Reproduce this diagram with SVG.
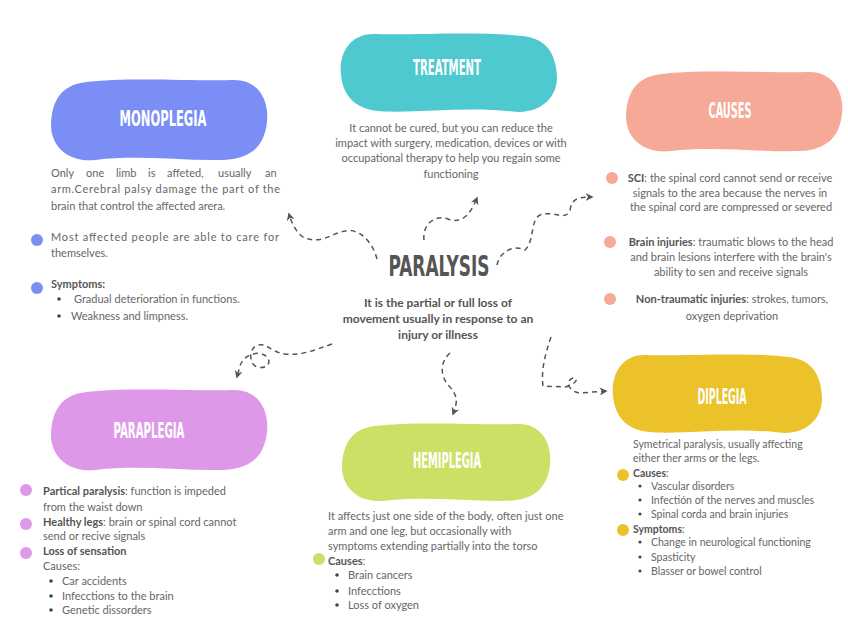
<svg xmlns="http://www.w3.org/2000/svg" width="848" height="636" viewBox="0 0 848 636">
<style>
.b{font-family:Lato,"Open Sans",sans-serif;font-size:11px;fill:#666}
.d{font-size:10.5px}
.s{font-weight:bold;fill:#555}
.m{text-anchor:middle}
.h{font-family:"Liberation Sans Narrow","DejaVu Sans Condensed",sans-serif;font-weight:bold;fill:#fff;font-size:21px;text-anchor:middle}
.c{fill:none;stroke:#555;stroke-width:1.5;stroke-dasharray:5 4;marker-end:url(#ar)}
.dot{fill:#444}
</style>
<defs>
<path id="blob" d="M32,4 C70,-1 130,3 168,2 C194,1 202,24 200,42 C198,62 188,77 160,78 C120,79 82,73 42,78 C14,81 0,62 1,43 C2,22 10,7 32,4 Z"/>
<marker id="ar" viewBox="0 0 10 10" refX="8" refY="5" markerWidth="8" markerHeight="8" markerUnits="userSpaceOnUse" orient="auto">
<path d="M0,0 L10,5 L0,10 L3,5 Z" fill="#555"/>
</marker>
</defs>
<rect width="848" height="636" fill="#fff"/>

<g id="connectors">
<path class="c" d="M377,259 C372,240 358,228 345,231 C330,234 322,244 305,238 C298,235 292,225 289,214"/>
<path class="c" d="M424,240 C422,225 435,214 448,219 C462,224 470,215 477,198"/>
<path class="c" d="M497,265 C500,250 515,245 525,250 C535,240 530,220 540,215 C555,210 565,222 570,210 C572,200 575,197 592,197"/>
<path class="c" d="M332,344 C315,350 300,356 285,354 C270,352 268,343 258,345 C250,347 248,360 255,366 C262,370 272,366 268,358 C262,350 245,352 240,366 L237,377"/>
<path class="c" d="M450,353 C440,362 440,375 448,385 C458,395 458,402 453,414"/>
<path class="c" d="M551,337 C545,355 541,370 543,386 L565,387 C575,385 580,378 573,378 C565,380 568,392 580,393 L606,391"/>
</g>

<g id="paralysis">
<text x="439" y="276" font-family="'Liberation Sans Narrow','DejaVu Sans Condensed',sans-serif" font-weight="bold" font-size="28" fill="#555" text-anchor="middle" textLength="101" lengthAdjust="spacingAndGlyphs">PARALYSIS</text>
<text class="b s m" x="438" y="307" style="font-size:12px">It is the partial or full loss of</text>
<text class="b s m" x="438" y="323" style="font-size:12px">movement usually in response to an</text>
<text class="b s m" x="438" y="339" style="font-size:12px">injury  or illness</text>
</g>

<g id="monoplegia">
<use href="#blob" fill="#7A8EF6" transform="translate(50,78) scale(1.085,1.05)"/>
<text class="h" x="163" y="126" textLength="87" lengthAdjust="spacingAndGlyphs">MONOPLEGIA</text>
<text class="b" y="177"><tspan x="51">Only</tspan><tspan x="86">one</tspan><tspan x="116">limb</tspan><tspan x="148">is</tspan><tspan x="167">affeted,</tspan><tspan x="218">usually</tspan><tspan x="265">an</tspan></text>
<text class="b" x="51" y="193" textLength="229" lengthAdjust="spacing">arm.Cerebral palsy damage the part of the</text>
<text class="b" x="51" y="210">brain that control the affected arera.</text>
<circle cx="37" cy="240" r="6" fill="#7A8EF6"/>
<text class="b" x="51" y="241" textLength="228" lengthAdjust="spacing">Most affected people are able to care for</text>
<text class="b" x="51" y="257">themselves.</text>
<circle cx="37" cy="288" r="6" fill="#7A8EF6"/>
<text class="b s" x="51" y="288">Symptoms:</text>
<circle class="dot" cx="59" cy="299" r="1.8"/>
<text class="b" x="74" y="303">Gradual deterioration in functions.</text>
<circle class="dot" cx="59" cy="316" r="1.8"/>
<text class="b" x="71" y="320">Weakness and limpness.</text>
</g>

<g id="treatment">
<use href="#blob" fill="#4DC9CF" transform="translate(558,32) scale(-1.085,1.02)"/>
<text class="h" x="447" y="75" textLength="68" lengthAdjust="spacingAndGlyphs">TREATMENT</text>
<text class="b m" x="451" y="132">It cannot be cured, but you can reduce the</text>
<text class="b m" x="451" y="147">impact with surgery, medication, devices or with</text>
<text class="b m" x="451" y="162">occupational therapy to help you regain some</text>
<text class="b m" x="451" y="178">functioning</text>
</g>

<g id="causes">
<use href="#blob" fill="#F5A996" transform="translate(625,70) scale(1.085,1.04)"/>
<text class="h" x="730" y="118" textLength="43" lengthAdjust="spacingAndGlyphs">CAUSES</text>
<circle cx="612" cy="178" r="6" fill="#F5A996"/>
<text class="b m" x="730" y="182"><tspan class="s">SCI</tspan>: the spinal cord cannot send or receive</text>
<text class="b m" x="730" y="197">signals to the area because  the nerves in</text>
<text class="b m" x="731" y="211">the spinal cord are compressed or severed</text>
<circle cx="610" cy="242" r="6" fill="#F5A996"/>
<text class="b m" x="731" y="246"><tspan class="s">Brain injuries</tspan>: traumatic blows to the head</text>
<text class="b m" x="731" y="261">and brain lesions interfere with the brain's</text>
<text class="b m" x="731" y="276">ability to sen and receive signals</text>
<circle cx="610" cy="299" r="6" fill="#F5A996"/>
<text class="b m" x="732" y="303"><tspan class="s">Non-traumatic injuries</tspan>: strokes, tumors,</text>
<text class="b m" x="732" y="320">oxygen deprivation</text>
</g>

<g id="paraplegia">
<use href="#blob" fill="#DD98E8" transform="translate(50,388) scale(1.085,1.05)"/>
<text class="h" x="149" y="438" textLength="71" lengthAdjust="spacingAndGlyphs">PARAPLEGIA</text>
<circle cx="26" cy="490" r="6" fill="#DD98E8"/>
<text class="b" x="43" y="495"><tspan class="s">Partical paralysis</tspan>: function is impeded</text>
<text class="b" x="43" y="511">from  the waist down</text>
<circle cx="26" cy="524" r="6" fill="#DD98E8"/>
<text class="b" x="43" y="526"><tspan class="s">Healthy legs</tspan>: brain or spinal cord cannot</text>
<text class="b" x="43" y="540">send or recive signals</text>
<circle cx="26" cy="553" r="6" fill="#DD98E8"/>
<text class="b s" x="43" y="555">Loss of sensation</text>
<text class="b" x="43" y="570">Causes:</text>
<circle class="dot" cx="51" cy="581" r="1.8"/>
<text class="b" x="62" y="585">Car accidents</text>
<circle class="dot" cx="51" cy="596" r="1.8"/>
<text class="b" x="62" y="600">Infecctions to the brain</text>
<circle class="dot" cx="51" cy="610" r="1.8"/>
<text class="b" x="62" y="614">Genetic dissorders</text>
</g>

<g id="hemiplegia">
<use href="#blob" fill="#CBE065" transform="translate(341,422) scale(1.045,1.01)"/>
<text class="h" x="447" y="468" textLength="68" lengthAdjust="spacingAndGlyphs">HEMIPLEGIA</text>
<text class="b" x="328" y="520">It affects just one side of the body, often just one</text>
<text class="b" x="328" y="535">arm and one leg, but occasionally with</text>
<text class="b" x="328" y="550">symptoms extending partially into the torso</text>
<circle cx="319" cy="559" r="6" fill="#CBE065"/>
<text class="b" x="328" y="565"><tspan class="s">Causes</tspan>:</text>
<circle class="dot" cx="337" cy="575" r="1.8"/>
<text class="b" x="348" y="579">Brain cancers</text>
<circle class="dot" cx="337" cy="591" r="1.8"/>
<text class="b" x="348" y="595">Infecctions</text>
<circle class="dot" cx="337" cy="605" r="1.8"/>
<text class="b" x="348" y="609">Loss of oxygen</text>
</g>

<g id="diplegia">
<use href="#blob" fill="#EBC22A" transform="translate(823,353) scale(-1.05,1.02)"/>
<text class="h" x="722" y="404" textLength="49" lengthAdjust="spacingAndGlyphs">DIPLEGIA</text>
<text class="b d" x="633" y="448">Symetrical paralysis, usually affecting</text>
<text class="b d" x="633" y="462">either ther arms or the legs.</text>
<circle cx="623" cy="475" r="6" fill="#EBC22A"/>
<text class="b d" x="633" y="477"><tspan class="s">Causes</tspan>:</text>
<circle class="dot" cx="640" cy="486" r="1.6"/>
<text class="b d" x="651" y="490">Vascular disorders</text>
<circle class="dot" cx="640" cy="500" r="1.6"/>
<text class="b d" x="651" y="504">Infectión of the nerves and muscles</text>
<circle class="dot" cx="640" cy="514" r="1.6"/>
<text class="b d" x="651" y="518">Spinal corda and brain injuries</text>
<circle cx="623" cy="530" r="6" fill="#EBC22A"/>
<text class="b d" x="633" y="533"><tspan class="s">Symptoms</tspan>:</text>
<circle class="dot" cx="640" cy="542" r="1.6"/>
<text class="b d" x="651" y="546">Change in neurological functioning</text>
<circle class="dot" cx="640" cy="557" r="1.6"/>
<text class="b d" x="651" y="561">Spasticity</text>
<circle class="dot" cx="640" cy="571" r="1.6"/>
<text class="b d" x="651" y="575">Blasser or bowel control</text>
</g>
</svg>
